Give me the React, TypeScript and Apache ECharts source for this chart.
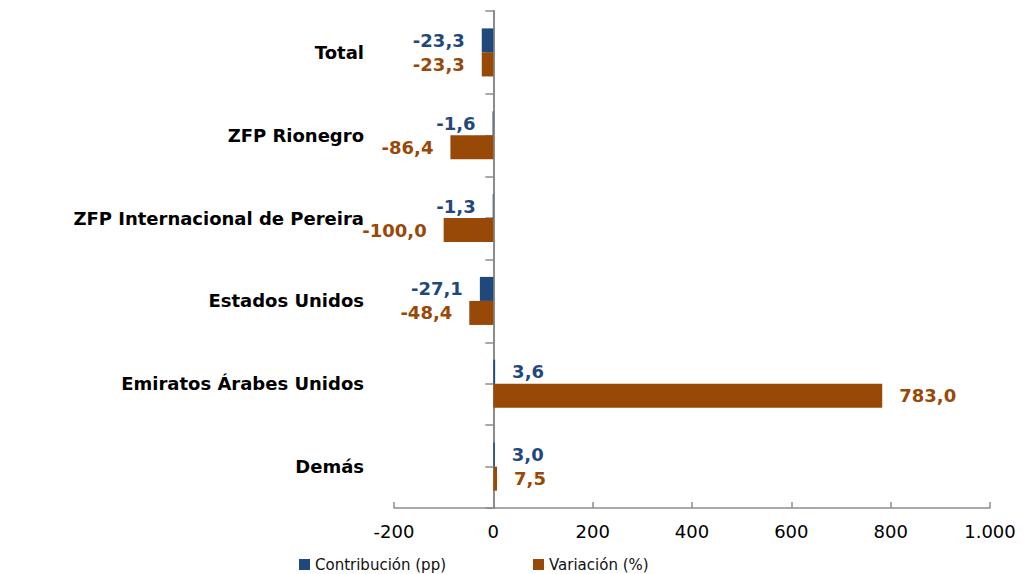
import React, { useEffect, useRef } from "react";
import * as echarts from "echarts";

const categories = [
  "Total",
  "ZFP Rionegro",
  "ZFP Internacional de Pereira",
  "Estados Unidos",
  "Emiratos Árabes Unidos",
  "Demás",
];
const contribucion = [-23.3, -1.6, -1.3, -27.1, 3.6, 3.0];
const variacion = [-23.3, -86.4, -100.0, -48.4, 783.0, 7.5];
const xTicks = [-200, 0, 200, 400, 600, 800, 1000];
const seriesNames = ["Contribución (pp)", "Variación (%)"];

const BLUE = "#1F497D";
const ORANGE = "#984807";
const FONT = "DejaVu Sans";

const fmtDec = (v: number) => v.toFixed(1).replace(".", ",");
const fmtTick = (v: number) =>
  (v < 0 ? "-" : "") + String(Math.abs(v)).replace(/\B(?=(\d{3})+(?!\d))/g, ".");

const toData = (arr: number[]) =>
  arr.map((v) => ({
    value: v,
    label: { position: v < 0 ? "left" : "right" },
  }));

export default function App() {
  const ref = useRef<HTMLDivElement>(null);
  useEffect(() => {
    if (!ref.current) return;
    const chart = echarts.init(ref.current, undefined, { renderer: "svg" });
    const axisGray = "#8C8C8C";
    const legendBase = {
      top: 552,
      itemWidth: 11,
      itemHeight: 11,
      icon: "rect",
      textStyle: { fontFamily: FONT, fontSize: 15, color: "#111" },
    };
    chart.setOption({
      animation: false,
      backgroundColor: "#ffffff",
      grid: { left: 394, right: 37, top: 11, bottom: 66, containLabel: false },
      legend: [
        { ...legendBase, left: 294, data: [seriesNames[0]] },
        { ...legendBase, left: 528, data: [seriesNames[1]] },
      ],
      xAxis: {
        type: "value",
        min: xTicks[0],
        max: xTicks[xTicks.length - 1],
        interval: xTicks[1] - xTicks[0],
        axisLine: { show: true, onZero: false, lineStyle: { color: axisGray, width: 1.5 } },
        axisTick: { show: true, inside: true, length: 6, lineStyle: { color: axisGray, width: 1.5 } },
        splitLine: { show: false },
        axisLabel: {
          formatter: (v: number) => fmtTick(v),
          fontFamily: FONT,
          fontSize: 18,
          color: "#000",
          margin: 14,
        },
      },
      yAxis: [
        {
          type: "category",
          inverse: true,
          data: categories,
          position: "left",
          axisLine: { show: false, onZero: false },
          axisTick: { show: false },
          axisLabel: {
            fontFamily: FONT,
            fontWeight: "bold",
            fontSize: 18,
            color: "#000",
            margin: 30,
          },
        },
        {
          type: "category",
          inverse: true,
          data: categories,
          position: "left",
          axisLine: { show: true, onZero: true, onZeroAxisIndex: 0, lineStyle: { color: axisGray, width: 2 } },
          axisTick: { show: true, alignWithLabel: false, length: 8, lineStyle: { color: axisGray, width: 1.5 } },
          axisLabel: { show: false },
        },
        {
          type: "category",
          inverse: true,
          data: categories,
          position: "left",
          axisLine: { show: true, onZero: true, onZeroAxisIndex: 0, lineStyle: { color: axisGray, width: 2 } },
          axisTick: { show: true, alignWithLabel: true, length: 8, lineStyle: { color: axisGray, width: 1.5 } },
          axisLabel: { show: false },
        },
      ],
      series: [
        {
          name: seriesNames[0],
          type: "bar",
          yAxisIndex: 0,
          data: toData(contribucion),
          barGap: "0%",
          barCategoryGap: "42%",
          itemStyle: { color: BLUE },
          label: {
            show: true,
            distance: 17,
            formatter: (p: any) => fmtDec(p.value),
            fontFamily: FONT,
            fontWeight: "bold",
            fontSize: 18,
            color: BLUE,
          },
        },
        {
          name: seriesNames[1],
          type: "bar",
          yAxisIndex: 0,
          data: toData(variacion),
          barGap: "0%",
          barCategoryGap: "42%",
          itemStyle: { color: ORANGE },
          label: {
            show: true,
            distance: 17,
            formatter: (p: any) => fmtDec(p.value),
            fontFamily: FONT,
            fontWeight: "bold",
            fontSize: 18,
            color: ORANGE,
          },
        },
      ],
    });
    return () => chart.dispose();
  }, []);
  return (
    <div
      ref={ref}
      style={{ position: "fixed", left: 0, top: 0, width: 1027, height: 574, background: "#fff" }}
    />
  );
}
